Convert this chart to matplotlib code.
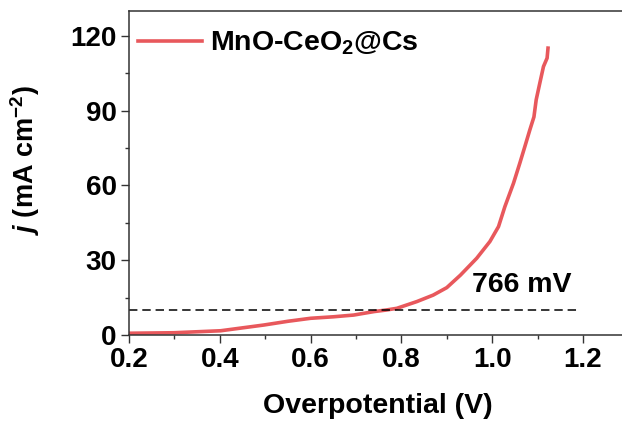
import numpy as np
import matplotlib
matplotlib.use('Agg')
import matplotlib.pyplot as plt
from matplotlib.ticker import MultipleLocator

plt.rcParams['font.family'] = 'Liberation Sans'
plt.rcParams['font.weight'] = 'bold'
plt.rcParams['mathtext.fontset'] = 'custom'
plt.rcParams['mathtext.rm'] = 'Liberation Sans:bold'
plt.rcParams['mathtext.bf'] = 'Liberation Sans:bold'
plt.rcParams['mathtext.it'] = 'Liberation Sans:bold:italic'
plt.rcParams['mathtext.bfit'] = 'Liberation Sans:bold:italic'

# LSV curve, overpotential (V) vs current density (mA cm-2)
overpotential = [0.200, 0.299, 0.402, 0.497, 0.550, 0.600, 0.650, 0.695, 0.740,
                 0.766, 0.790, 0.834, 0.870, 0.900, 0.930, 0.966, 0.995,
                 1.014, 1.028, 1.047, 1.061, 1.072, 1.083, 1.092, 1.097,
                 1.105, 1.113, 1.121, 1.123]
current = [0.7, 0.9, 1.7, 4.0, 5.5, 6.7, 7.3, 8.0, 9.4,
           10.0, 10.7, 13.4, 16.0, 19.0, 24.0, 30.8, 37.5,
           43.5, 51.5, 60.9, 69.0, 75.6, 82.3, 87.5, 94.4,
           101.1, 107.7, 111.1, 115.1]
j_ref = 10
eta_label = '766 mV'

fig = plt.figure(figsize=(6.22, 4.21), dpi=100)
ax = fig.add_axes([0.2074, 0.2043, 0.7926, 0.7696])

ax.plot(overpotential, current, color='#E8585C', lw=2.6, label='MnO-CeO$_{2}$@Cs')
ax.plot([0.2, 1.193], [j_ref, j_ref], ls=(0, (5.5, 3.2)), color='black', lw=1.1)
ax.text(1.066, 20, eta_label, fontsize=20.5, fontweight='bold', ha='center', va='center')

ax.set_xlim(0.2, 1.286)
ax.set_ylim(0, 130)
ax.xaxis.set_minor_locator(MultipleLocator(0.1))
ax.yaxis.set_major_locator(MultipleLocator(30))
ax.yaxis.set_minor_locator(MultipleLocator(15))
ax.set_xticks(np.arange(0.2, 1.21, 0.2))
ax.set_xticklabels(['0.2', '0.4', '0.6', '0.8', '1.0', '1.2'])
ax.tick_params(which='major', direction='out', length=6, width=1, labelsize=20, pad=3, color='#333333')
ax.tick_params(which='minor', direction='out', length=3, width=1, color='#333333')
for s in ['left', 'top', 'bottom']:
    ax.spines[s].set_color('#333333')
    ax.spines[s].set_linewidth(1.1)
ax.spines['right'].set_visible(False)

ax.set_xlabel('Overpotential (V)', fontsize=20.5, fontweight='bold')
ax.xaxis.set_label_coords(0.504, -0.178)
ax.set_ylabel(r'$j$ (mA cm$^{-2}$)', fontsize=19.5, fontweight='bold')
ax.yaxis.set_label_coords(-0.176, 0.54)

ax.legend(loc='center left', frameon=False, fontsize=20.5, handlelength=2.25,
          handletextpad=0.28, borderaxespad=0, borderpad=0,
          bbox_to_anchor=(0.018, 0.90))

fig.savefig('out.png', dpi=100)
